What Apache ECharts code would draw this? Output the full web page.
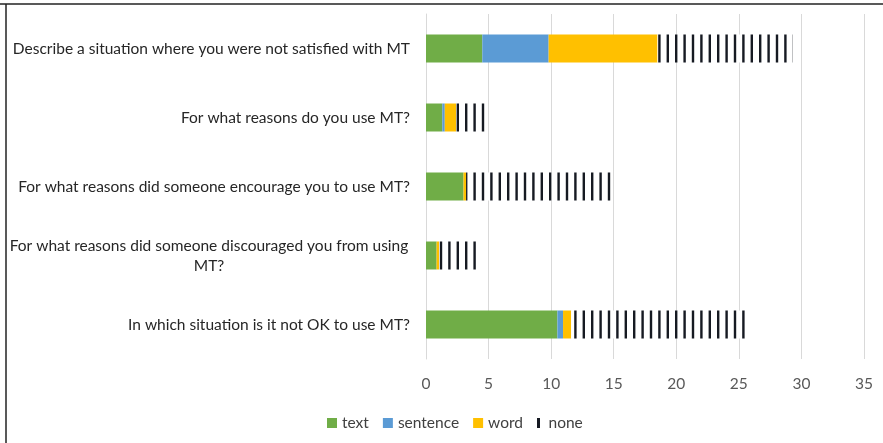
<!DOCTYPE html>
<html>
<head>
<meta charset="utf-8">
<script src="https://cdn.jsdelivr.net/npm/echarts@6/dist/echarts.min.js"></script>
<style>
  html, body { margin: 0; padding: 0; background: #fff; }
  #chart { width: 883px; height: 443px; }
</style>
</head>
<body>
<div id="chart"></div>
<script>
// Survey questions (top to bottom) and the answer type counts per question
const questions = [
  "Describe a situation where you were not satisfied with MT",
  "For what reasons do you use MT?",
  "For what reasons did someone encourage you to use MT?",
  "For what reasons did someone discouraged you from using MT?",
  "In which situation is it not OK to use MT?"
];
const textValues     = [4.5, 1.3, 3.0, 0.85, 10.5];
const sentenceValues = [5.3, 0.2, 0.0, 0.0, 0.45];
const wordValues     = [8.7, 0.9, 0.2, 0.2, 0.65];
const noneValues     = [10.8, 2.4, 11.7, 3.2, 13.9];
const axisTicks      = [0, 5, 10, 15, 20, 25, 30, 35];

// Vertical-stripe fill used for the "none" segment
function stripePattern() {
  const c = document.createElement('canvas');
  const period = 8.4, n = 5;
  c.width = Math.round(period * n);
  c.height = 4;
  const ctx = c.getContext('2d');
  ctx.fillStyle = '#ffffff';
  ctx.fillRect(0, 0, c.width, c.height);
  ctx.fillStyle = '#161a22';
  for (let i = 0; i < n; i++) {
    ctx.fillRect(i * period + 3, 0, 2.4, c.height);
  }
  return c;
}

const chart = echarts.init(document.getElementById('chart'), null, { renderer: 'canvas' });
const labelFont = 'Lato, "Open Sans", sans-serif';

function seriesOf(name, values, color) {
  return {
    name: name,
    type: 'bar',
    stack: 'total',
    barWidth: 28,
    data: values,
    itemStyle: { color: color },
    emphasis: { disabled: true }
  };
}

chart.setOption({
  animation: false,
  backgroundColor: '#ffffff',
  grid: { left: 426, right: 19, top: 14, bottom: 84, containLabel: false },
  xAxis: {
    type: 'value',
    min: axisTicks[0],
    max: axisTicks[axisTicks.length - 1],
    interval: axisTicks[1] - axisTicks[0],
    axisLine: { show: false },
    axisTick: { show: false },
    splitLine: { lineStyle: { color: '#d9d9d9', width: 1 } },
    axisLabel: { color: '#595959', fontFamily: labelFont, fontSize: 15.5, margin: 17 }
  },
  yAxis: {
    type: 'category',
    inverse: true,
    data: questions,
    axisLine: { show: true, lineStyle: { color: '#d9d9d9' } },
    axisTick: { show: false },
    axisLabel: {
      margin: 16,
      color: '#262626',
      fontFamily: labelFont,
      fontSize: 15.5,
      formatter: function (v) {
        if (v.indexOf('discouraged') >= 0) {
          const cut = v.lastIndexOf(' ');
          return '{c|' + v.slice(0, cut) + '}\n{c|' + v.slice(cut + 1) + '}';
        }
        return v;
      },
      rich: {
        c: { width: 402, align: 'center', color: '#262626', fontFamily: labelFont, fontSize: 15.5, lineHeight: 20 }
      }
    }
  },
  legend: {
    bottom: 7,
    left: 322,
    itemWidth: 10,
    itemHeight: 10,
    itemGap: 14,
    textStyle: { color: '#404040', fontFamily: labelFont, fontSize: 15.5 },
    data: [
      { name: 'text', icon: 'rect' },
      { name: 'sentence', icon: 'rect' },
      { name: 'word', icon: 'rect' },
      { name: 'none', icon: 'path://M0,0h3v10h-3z', itemStyle: { color: '#161a22' } }
    ]
  },
  graphic: [
    { type: 'line', shape: { x1: 0, y1: 4, x2: 883, y2: 4 }, style: { stroke: '#222', lineWidth: 1.5 }, silent: true },
    { type: 'line', shape: { x1: 6, y1: 4, x2: 6, y2: 443 }, style: { stroke: '#222', lineWidth: 1.5 }, silent: true }
  ],
  series: [
    seriesOf('text', textValues, '#70ad47'),
    seriesOf('sentence', sentenceValues, '#5b9bd5'),
    seriesOf('word', wordValues, '#ffc000'),
    seriesOf('none', noneValues, { image: stripePattern(), repeat: 'repeat' })
  ]
});
</script>
</body>
</html>
